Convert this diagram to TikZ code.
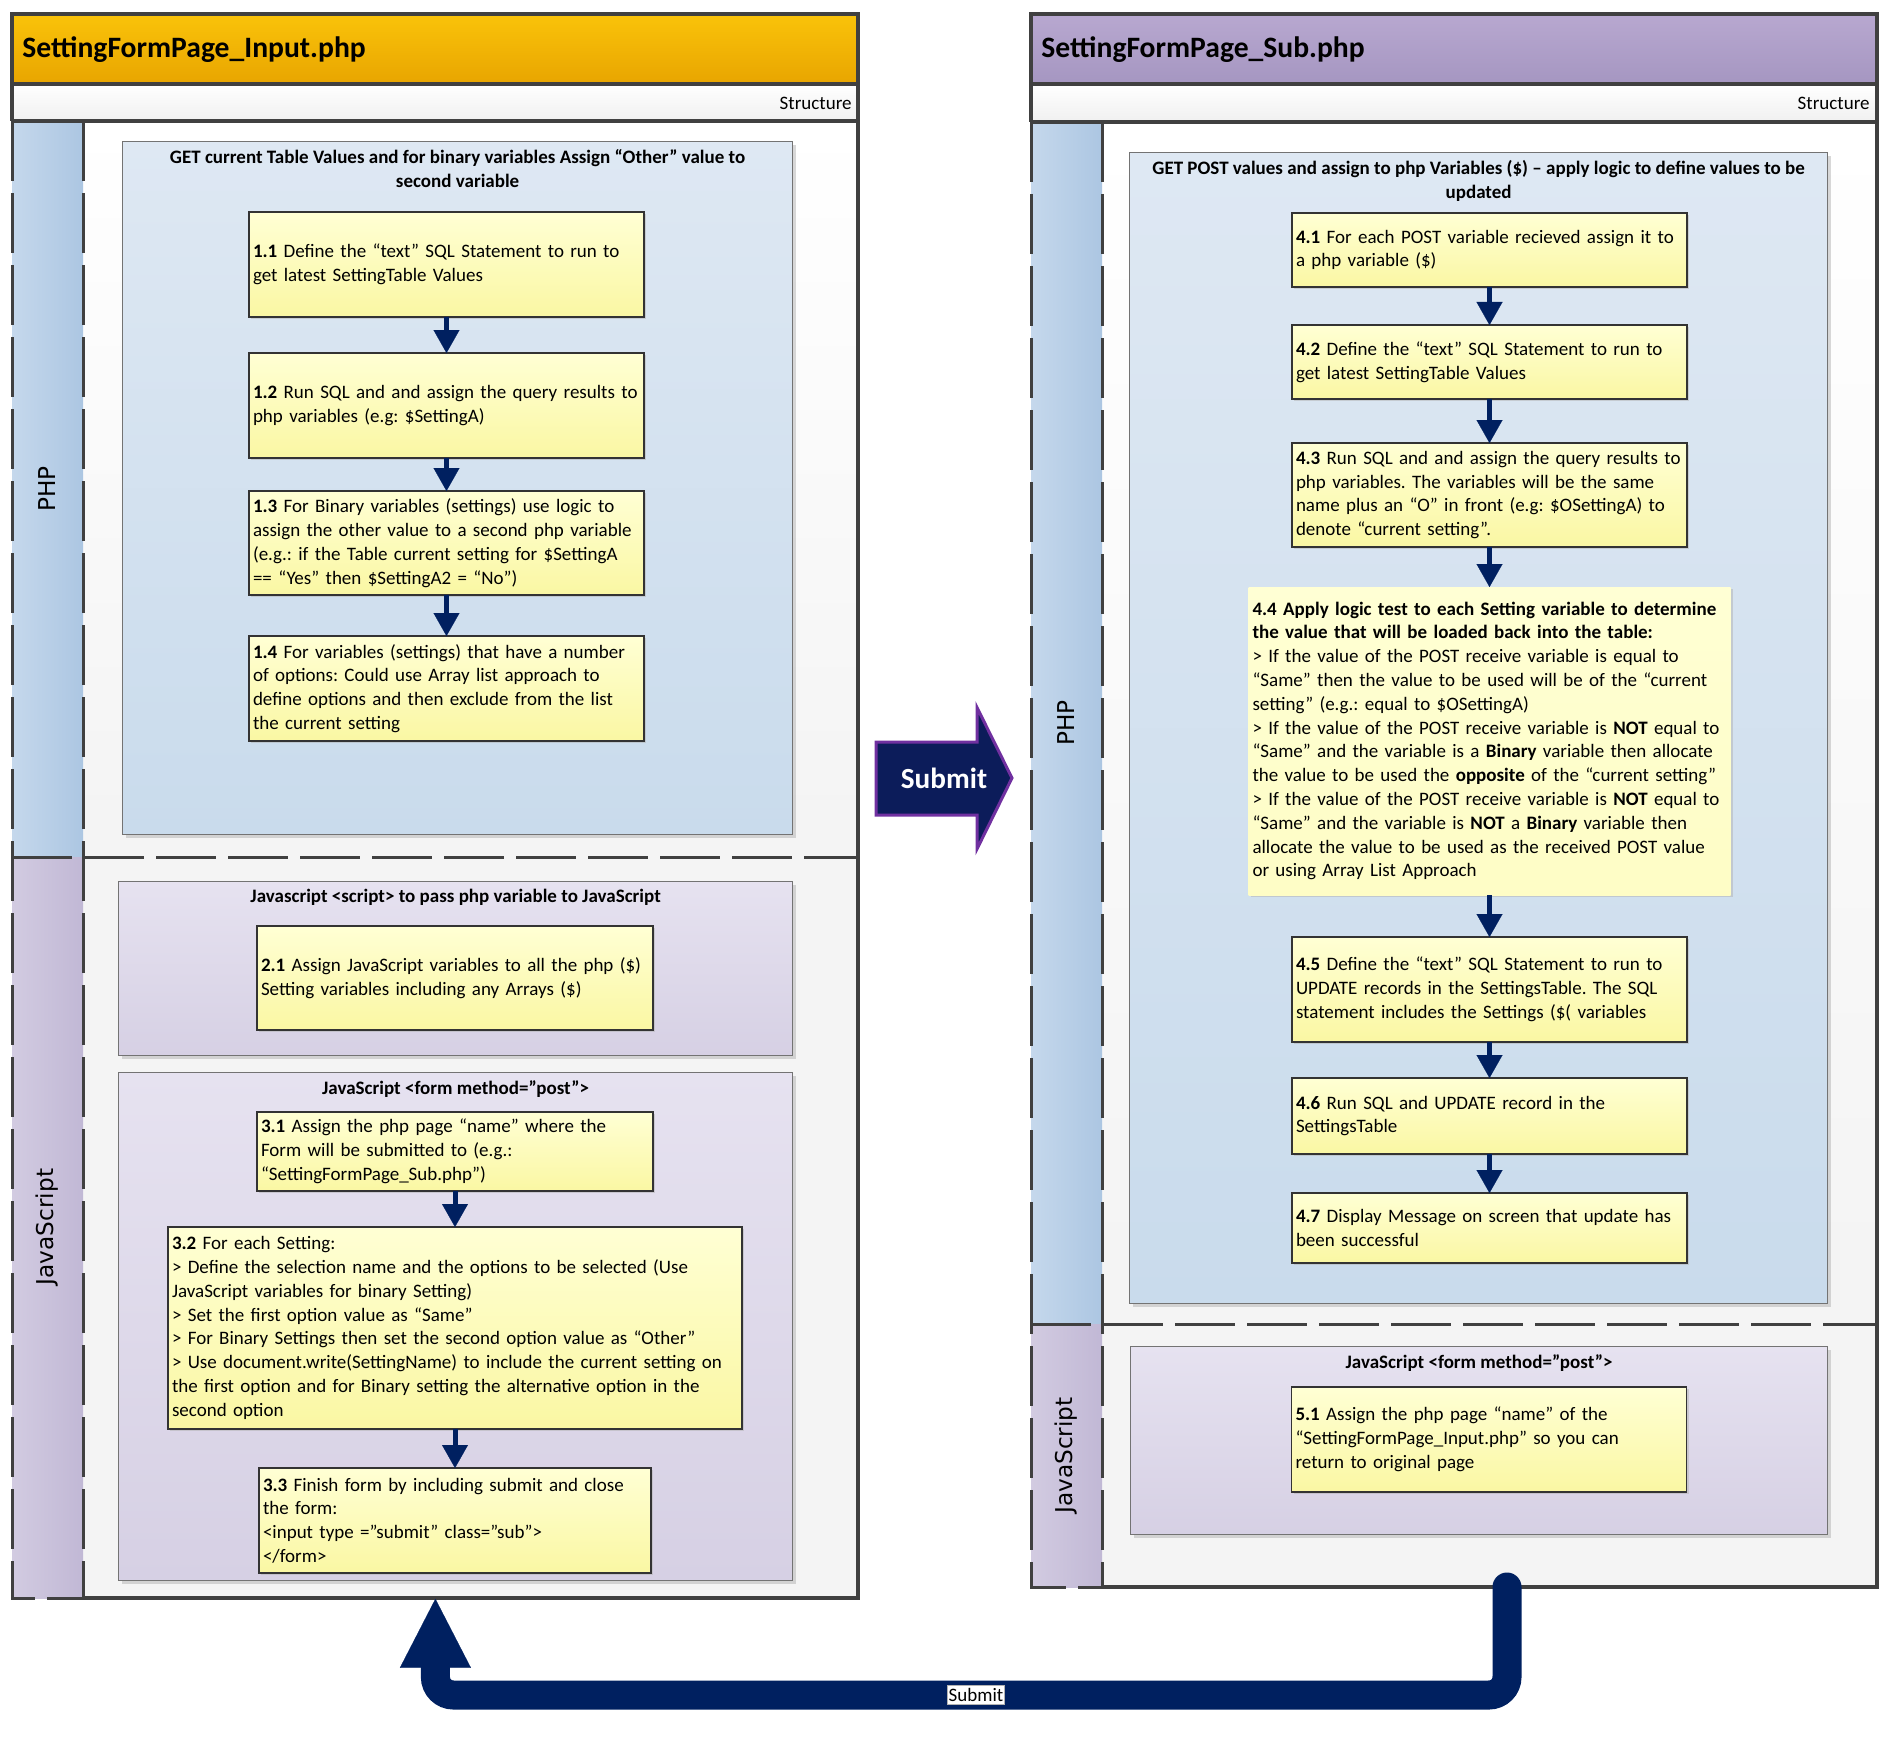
\documentclass[tikz,border=0pt]{standalone}
\usepackage{fontspec}
\setmainfont{Carlito}
\newfontfamily\lanefont{DejaVu Sans}
\usetikzlibrary{positioning,arrows.meta,shadows}

\newcommand{\stepfont}{\fontsize{9.5}{11.9}\selectfont}
\frenchspacing
\hyphenpenalty=10000
\exhyphenpenalty=10000

\definecolor{navyline}{RGB}{0,32,96}
\definecolor{framegray}{RGB}{64,64,64}
\definecolor{orangetop}{RGB}{250,195,10}
\definecolor{orangebot}{RGB}{232,165,0}
\definecolor{purpletop}{RGB}{184,168,208}
\definecolor{purplebot}{RGB}{165,150,193}
\definecolor{phplaneL}{RGB}{197,216,236}
\definecolor{phplaneR}{RGB}{172,198,226}
\definecolor{jslaneL}{RGB}{210,203,225}
\definecolor{jslaneR}{RGB}{193,184,213}
\definecolor{phpgrpT}{RGB}{222,232,243}
\definecolor{phpgrpB}{RGB}{201,219,236}
\definecolor{jsgrpT}{RGB}{230,226,240}
\definecolor{jsgrpB}{RGB}{214,208,228}
\definecolor{stepT}{RGB}{255,255,212}
\definecolor{stepB}{RGB}{250,247,163}
\definecolor{submitfill}{RGB}{12,28,90}
\definecolor{submitedge}{RGB}{112,48,160}

\tikzstyle{pagebox} = [rectangle, inner sep=0pt, anchor=north west]
\tikzstyle{frameline} = [draw=framegray, line width=1.75pt]
\tikzstyle{laneline} = [draw=framegray, line width=1.5pt, dash pattern=on 30pt off 6pt]
\tikzstyle{pagetitle} = [anchor=west, inner sep=0pt, font=\fontsize{14.8}{17}\selectfont\bfseries]
\tikzstyle{structlabel} = [anchor=east, inner sep=0pt, font=\stepfont]
\tikzstyle{lanelabel} = [rotate=90, inner sep=0pt, font=\lanefont\fontsize{11.6}{14}\selectfont]
\tikzstyle{groupbox} = [rectangle, draw=black!55, line width=0.6pt, inner sep=0pt, anchor=north west, drop shadow={shadow xshift=1.5pt, shadow yshift=-1.5pt, fill=black!30, opacity=0.5}]
\tikzstyle{groupphp} = [top color=phpgrpT, bottom color=phpgrpB]
\tikzstyle{groupjs} = [top color=jsgrpT, bottom color=jsgrpB]
\tikzstyle{grouptitle} = [anchor=north, align=center, inner sep=4pt, font=\stepfont\bfseries]
\tikzstyle{stepbox} = [rectangle, draw=black!80, line width=0.6pt, top color=stepT, bottom color=stepB, text width=193.5pt, minimum height=52.5pt, inner xsep=2pt, inner ysep=1pt, outer sep=0pt, align=left, font=\stepfont, drop shadow={shadow xshift=1.2pt, shadow yshift=-1.2pt, fill=black!30, opacity=0.5}]
\tikzstyle{stepplain} = [stepbox, draw=none, top color=stepT, bottom color=stepT!70!stepB]
\tikzstyle{steparrow} = [draw=navyline, line width=2.5pt, -{Triangle[length=11.5pt, width=13pt, line width=0.1pt]}]
\tikzstyle{loopback} = [draw=navyline, line width=14.5pt, rounded corners=9pt, line cap=round, -{Triangle[length=34.5pt, width=35.5pt, line width=0.1pt]}]
\tikzstyle{looplabel} = [fill=white, draw=black!30, line width=0.3pt, inner xsep=0.5pt, inner ysep=1.5pt, font=\stepfont]
\tikzstyle{submitshape} = [fill=submitfill, draw=submitedge, line width=1.5pt, line join=miter]
\tikzstyle{submittext} = [text=white, inner sep=0pt, font=\fontsize{14.6}{17}\selectfont\bfseries]

\begin{document}
\begin{tikzpicture}[x=0.5pt, y=-0.5pt]
\useasboundingbox (0,0) rectangle (1890,1739);

% SettingFormPage_Input.php
\node (pageA) [pagebox, minimum width=423pt, minimum height=792pt] at (12,14) {};
\shade [top color=orangetop, bottom color=orangebot] (12,14) rectangle (858,84);
\shade [top color=white, bottom color=gray!12] (12,84) rectangle (858,121);
\shade [top color=white, bottom color=gray!9] (83,121) rectangle (858,857);
\fill [gray!9] (83,857) rectangle (858,1598);
\shade [left color=phplaneL, right color=phplaneR] (12,121) rectangle (83,857);
\shade [left color=jslaneL, right color=jslaneR] (12,857) rectangle (83,1598);
\draw [frameline] (12,121) -- (12,14) -- (858,14) -- (858,1598) -- (83,1598);
\draw [frameline] (12,84) -- (858,84) (12,121) -- (858,121);
\draw [laneline] (12,121) -- (12,1598) -- (83,1598) (83,121) -- (83,1598) (12,857) -- (858,857);
\node (titleA) [pagetitle] at (22,50) {SettingFormPage\_Input.php};
\node (structA) [structlabel] at (852,103) {Structure};
\node (laneA1) [lanelabel] at (47.5,489) {PHP};
\node (laneA2) [lanelabel] at (47.5,1227) {JavaScript};

\node (gA1) [groupbox, groupphp, minimum width=335pt, minimum height=346.5pt] at (122,141) {};
\node (tA1) [grouptitle] at (gA1.north) {GET current Table Values and for binary variables Assign “Other” value to\\second variable};
\node (s11) [stepbox] at (446.5,264.5) {\textbf{1.1} Define the “text” SQL Statement to run to\\get latest SettingTable Values};
\node (s12) [stepbox, below=18pt of s11] {\textbf{1.2} Run SQL and and assign the query results to\\php variables (e.g: \$SettingA)};
\node (s13) [stepbox, below=16.5pt of s12, minimum height=52pt] {\textbf{1.3} For Binary variables (settings) use logic to\\assign the other value to a second php variable\\(e.g.: if the Table current setting for \$SettingA\\== “Yes” then \$SettingA2 = “No”)};
\node (s14) [stepbox, below=20.5pt of s13] {\textbf{1.4} For variables (settings) that have a number\\of options: Could use Array list approach to\\define options and then exclude from the list\\the current setting};
\draw [steparrow] (s11) -- (s12);
\draw [steparrow] (s12) -- (s13);
\draw [steparrow] (s13) -- (s14);

\node (gA2) [groupbox, groupjs, minimum width=337pt, minimum height=87pt] at (118,881) {};
\node (tA2) [grouptitle] at (gA2.north) {Javascript <script> to pass php variable to JavaScript};
\node (s21) [stepbox, text width=194pt, minimum height=52pt] at (455,978) {\textbf{2.1} Assign JavaScript variables to all the php (\$)\\Setting variables including any Arrays (\$)};

\node (gA3) [groupbox, groupjs, minimum width=337pt, minimum height=254pt] at (118,1072) {};
\node (tA3) [grouptitle] at (gA3.north) {JavaScript <form method="post”>};
\node (s31) [stepbox, text width=194pt, minimum height=39.5pt] at (455,1151.5) {\textbf{3.1} Assign the php page “name” where the\\Form will be submitted to (e.g.:\\“SettingFormPage\_Sub.php”)};
\node (s32) [stepbox, below=18pt of s31, text width=283pt, minimum height=101pt] {\textbf{3.2} For each Setting:\\> Define the selection name and the options to be selected (Use\\JavaScript variables for binary Setting)\\> Set the first option value as “Same”\\> For Binary Settings then set the second option value as “Other”\\> Use document.write(SettingName) to include the current setting on\\the first option and for Binary setting the alternative option in the\\second option};
\node (s33) [stepbox, below=19.5pt of s32, text width=192pt] {\textbf{3.3} Finish form by including submit and close\\the form:\\<input type ="submit" class="sub">\\</form>};
\draw [steparrow] (s31) -- (s32);
\draw [steparrow] (s32) -- (s33);

% SettingFormPage_Sub.php
\node (pageB) [pagebox, minimum width=423pt, minimum height=786.5pt] at (1031,14) {};
\shade [top color=purpletop, bottom color=purplebot] (1031,14) rectangle (1877,84);
\shade [top color=white, bottom color=gray!12] (1031,84) rectangle (1877,122);
\shade [top color=white, bottom color=gray!9] (1102,122) rectangle (1877,1324);
\fill [gray!9] (1102,1324) rectangle (1877,1587);
\shade [left color=phplaneL, right color=phplaneR] (1031,122) rectangle (1102,1324);
\shade [left color=jslaneL, right color=jslaneR] (1031,1324) rectangle (1102,1587);
\draw [frameline] (1031,122) -- (1031,14) -- (1877,14) -- (1877,1587) -- (1102,1587);
\draw [frameline] (1031,84) -- (1877,84) (1031,122) -- (1877,122);
\draw [laneline] (1031,122) -- (1031,1587) -- (1102,1587) (1102,122) -- (1102,1587) (1031,1324) -- (1877,1324);
\node (titleB) [pagetitle] at (1041,50) {SettingFormPage\_Sub.php};
\node (structB) [structlabel] at (1870,103) {Structure};
\node (laneB1) [lanelabel] at (1066.5,723) {PHP};
\node (laneB2) [lanelabel] at (1066.5,1455.5) {JavaScript};

\node (gB1) [groupbox, groupphp, minimum width=349pt, minimum height=575.5pt] at (1129,152) {};
\node (tB1) [grouptitle] at (gB1.north) {GET POST values and assign to php Variables (\$) – apply logic to define values to be\\updated};
\node (s41) [stepbox, minimum height=37pt] at (1489.5,250) {\textbf{4.1} For each POST variable recieved assign it to\\a php variable (\$)};
\node (s42) [stepbox, below=19pt of s41, minimum height=37pt] {\textbf{4.2} Define the “text” SQL Statement to run to\\get latest SettingTable Values};
\node (s43) [stepbox, below=22pt of s42, minimum height=52pt] {\textbf{4.3} Run SQL and and assign the query results to\\php variables. The variables will be the same\\name plus an “O” in front (e.g: \$OSettingA) to\\denote “current setting”.};
\node (s44) [stepplain, below=20pt of s43, text width=237pt, minimum height=154pt] {\textbf{4.4 Apply logic test to each Setting variable to determine}\\\textbf{the value that will be loaded back into the table:}\\> If the value of the POST receive variable is equal to\\“Same” then the value to be used will be of the “current\\setting” (e.g.: equal to \$OSettingA)\\> If the value of the POST receive variable is \textbf{NOT} equal to\\“Same” and the variable is a \textbf{Binary} variable then allocate\\the value to be used the \textbf{opposite} of the “current setting”\\> If the value of the POST receive variable is \textbf{NOT} equal to\\“Same” and the variable is \textbf{NOT} a \textbf{Binary} variable then\\allocate the value to be used as the received POST value\\or using Array List Approach};
\node (s45) [stepbox, below=21pt of s44] {\textbf{4.5} Define the “text” SQL Statement to run to\\UPDATE records in the SettingsTable. The SQL\\statement includes the Settings (\$( variables};
\node (s46) [stepbox, below=18pt of s45, minimum height=38pt] {\textbf{4.6} Run SQL and UPDATE record in the\\SettingsTable};
\node (s47) [stepbox, below=19.5pt of s46, minimum height=35pt] {\textbf{4.7} Display Message on screen that update has\\been successful};
\draw [steparrow] (s41) -- (s42);
\draw [steparrow] (s42) -- (s43);
\draw [steparrow] (s43) -- (s44);
\draw [steparrow] (s44) -- (s45);
\draw [steparrow] (s45) -- (s46);
\draw [steparrow] (s46) -- (s47);

\node (gB2) [groupbox, groupjs, minimum width=348.5pt, minimum height=94pt] at (1130,1346) {};
\node (tB2) [grouptitle] at (gB2.north) {JavaScript <form method="post”>};
\node (s51) [stepbox] at (1489,1439.5) {\textbf{5.1} Assign the php page “name” of the\\“SettingFormPage\_Input.php” so you can\\return to original page};

% submit between the pages
\draw [submitshape] (876,742) -- (977,742) -- (977,707.5) -- (1012,778) -- (977,849) -- (977,815) -- (876,815) -- cycle;
\node (submitA) [submittext] at (944,778.5) {Submit};

\coordinate (subout) at (1507,1587);
\draw [loopback] (subout) -- ++(0,108) -| (pageA.south);
\node (sublabel) [looplabel] at (976,1695) {Submit};
\end{tikzpicture}
\end{document}
